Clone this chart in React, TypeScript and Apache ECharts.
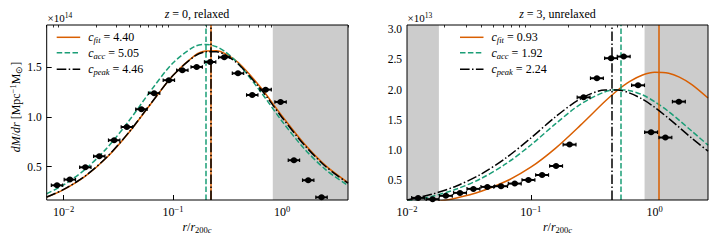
import React, { useEffect, useRef } from 'react';
import * as echarts from 'echarts';

// ---------- data ----------
// Left panel: z = 0, relaxed (values in units of 1e14)
const leftCurveR = [0.007, 0.01, 0.0158, 0.0251, 0.0398, 0.0631, 0.1, 0.158, 0.2, 0.251, 0.3, 0.398, 0.631, 1.0, 1.585, 2.512, 4.0];
const leftFitY = [0.194, 0.27, 0.406, 0.598, 0.847, 1.136, 1.417, 1.617, 1.663, 1.666, 1.638, 1.545, 1.301, 1.008, 0.733, 0.508, 0.34];
const leftAccY = [0.228, 0.317, 0.475, 0.692, 0.964, 1.268, 1.543, 1.709, 1.73, 1.706, 1.657, 1.535, 1.258, 0.955, 0.683, 0.468, 0.311];
const leftPeakY = [0.195, 0.271, 0.408, 0.601, 0.85, 1.138, 1.416, 1.611, 1.655, 1.655, 1.625, 1.53, 1.285, 0.993, 0.721, 0.5, 0.334];
const leftDataR = [0.0087, 0.0114, 0.0158, 0.0212, 0.029, 0.0379, 0.0515, 0.0673, 0.0918, 0.122, 0.165, 0.219, 0.295, 0.394, 0.532, 0.705, 0.966, 1.28, 1.73, 2.29];
const leftDataY = [0.313, 0.37, 0.494, 0.605, 0.766, 0.899, 1.078, 1.239, 1.37, 1.47, 1.503, 1.553, 1.6, 1.439, 1.221, 1.275, 1.151, 0.565, 0.364, 0.192];
const leftLegendValues = ['4.40', '5.05', '4.46'];
const leftVLines = [0.222, 0.197, 0.222]; // fit, acc, peak
const leftShade = [[0.82, 4.0]];
const leftRange = { xMin: 0.007, xMax: 4.0, yMin: 0.165, yMax: 1.925 };
const leftYTicks = [0.5, 1.0, 1.5];

// Right panel: z = 3, unrelaxed (values in units of 1e13)
const rightCurveR = [0.01, 0.0158, 0.0251, 0.0398, 0.0631, 0.1, 0.158, 0.251, 0.398, 0.5, 0.631, 0.8, 1.0, 1.3, 1.585, 2.0, 2.7];
const rightFitY = [0.084, 0.131, 0.204, 0.315, 0.48, 0.713, 1.026, 1.406, 1.806, 1.985, 2.135, 2.241, 2.287, 2.27, 2.206, 2.083, 1.86];
const rightAccY = [0.148, 0.229, 0.351, 0.528, 0.771, 1.081, 1.431, 1.756, 1.964, 1.999, 1.982, 1.911, 1.801, 1.634, 1.489, 1.311, 1.08];
const rightPeakY = [0.171, 0.264, 0.403, 0.601, 0.868, 1.196, 1.547, 1.844, 1.993, 1.994, 1.941, 1.839, 1.707, 1.522, 1.372, 1.193, 0.98];
const rightDataR = [0.0123, 0.0161, 0.0206, 0.0268, 0.0344, 0.0446, 0.0575, 0.0742, 0.0957, 0.1234, 0.16, 0.2056, 0.267, 0.342, 0.445, 0.563, 0.735, 0.937, 1.222, 1.57];
const rightDataY = [0.205, 0.184, 0.239, 0.288, 0.354, 0.387, 0.399, 0.442, 0.502, 0.584, 0.733, 1.088, 1.871, 2.188, 2.52, 2.547, 2.071, 1.293, 1.205, 1.8];
const rightLegendValues = ['0.93', '1.92', '2.24'];
const rightVLines = [1.085, 0.526, 0.45];
const rightShade = [[0.01, 0.0181], [0.83, 2.7]];
const rightRange = { xMin: 0.01, xMax: 2.7, yMin: 0.17, yMax: 3.07 };
const rightYTicks = [0.5, 1.0, 1.5, 2.0, 2.5, 3.0];

const xMajorTicks = [0.01, 0.1, 1];
const ERR_HALF_DEX = 0.052; // half-width of the horizontal error bars (dex)

// ---------- styles ----------
const FONT = 'Liberation Serif';
const ORANGE = '#d95f02';
const GREEN = '#1b9e77';
const BLACK = '#000000';
const DASH = [5.5, 2.4];
const DASHDOT = [9.6, 2.4, 1.5, 2.4];

const minorTicks: number[] = [];
for (let d = -3; d <= 0; d++) {
  for (let k = 2; k <= 9; k++) minorTicks.push(+(k * Math.pow(10, d)).toPrecision(3));
}

const rich = {
  n: { fontSize: 11, fontFamily: FONT, lineHeight: 14, color: '#000' },
  i: { fontSize: 11, fontFamily: FONT, fontStyle: 'italic', lineHeight: 14, color: '#000' },
  sub: { fontSize: 8, fontFamily: FONT, fontStyle: 'italic', lineHeight: 8, verticalAlign: 'bottom', color: '#000' },
  subn: { fontSize: 8, fontFamily: FONT, lineHeight: 8, verticalAlign: 'bottom', color: '#000' },
  sup: { fontSize: 7.5, fontFamily: FONT, lineHeight: 7, verticalAlign: 'top', color: '#000' },
  tn: { fontSize: 12, fontFamily: FONT, lineHeight: 15, color: '#000' },
  tsup: { fontSize: 8.5, fontFamily: FONT, lineHeight: 7, verticalAlign: 'top', color: '#000' },
  li: { fontSize: 12, fontFamily: FONT, fontStyle: 'italic', lineHeight: 15, color: '#000' },
  ln: { fontSize: 12, fontFamily: FONT, lineHeight: 15, color: '#000' },
  lsub: { fontSize: 8.5, fontFamily: FONT, fontStyle: 'italic', lineHeight: 8, verticalAlign: 'bottom', color: '#000' },
  lsubn: { fontSize: 8.5, fontFamily: FONT, lineHeight: 8, verticalAlign: 'bottom', color: '#000' },
  lsup: { fontSize: 8.5, fontFamily: FONT, lineHeight: 7, verticalAlign: 'top', color: '#000' },
};

const pairs = (xs: number[], ys: number[]) => xs.map((x, k) => [x, ys[k]]);

function xAxes(gi: number, rng: any) {
  return [
    {
      type: 'log', logBase: 10, gridIndex: gi, min: rng.xMin, max: rng.xMax,
      axisLine: { show: false }, splitLine: { show: false },
      axisTick: { show: true, inside: true, length: 5, customValues: xMajorTicks, lineStyle: { color: '#000', width: 1 } },
      axisLabel: {
        customValues: xMajorTicks, margin: 4, color: '#000',
        formatter: (v: number) => {
          const e = Math.round(Math.log10(v));
          return `{tn|10}{tsup|${e < 0 ? '\u2212' + -e : e}}`;
        },
        rich,
      },
    },
    {
      type: 'log', logBase: 10, gridIndex: gi, min: rng.xMin, max: rng.xMax,
      axisLine: { show: false }, splitLine: { show: false },
      axisTick: { show: true, inside: true, length: 2.5, customValues: minorTicks, lineStyle: { color: '#000', width: 0.8 } },
      axisLabel: { show: false },
    },
  ];
}

function yAxis(gi: number, rng: any, ticks: number[]) {
  return {
    type: 'value', gridIndex: gi, min: rng.yMin, max: rng.yMax,
    axisLine: { show: false }, splitLine: { show: false },
    axisTick: { show: true, inside: true, length: 5, customValues: ticks, lineStyle: { color: '#000', width: 1 } },
    axisLabel: {
      customValues: ticks, margin: 5, color: '#000', fontFamily: FONT, fontSize: 11.5,
      formatter: (v: number) => v.toFixed(1),
    },
  };
}

function panelSeries(gi: number, r: number[], fit: number[], acc: number[], peak: number[],
  dr: number[], dy: number[], vl: number[], shade: number[][]) {
  const xi = gi * 2;
  const common = { xAxisIndex: xi, yAxisIndex: gi, showSymbol: false, symbol: 'none', smooth: 0.3, clip: true, silent: true };
  const vline = (x: number, color: string, type: any) => ({
    symbol: ['none', 'none'], silent: true, label: { show: false },
    lineStyle: { color, width: 1.5, type }, data: [{ xAxis: x }],
  });
  const F = Math.pow(10, ERR_HALF_DEX);
  return [
    {
      type: 'line', xAxisIndex: xi, yAxisIndex: gi, data: [], z: 1, silent: true,
      markArea: {
        silent: true, itemStyle: { color: '#cccccc', opacity: 1 },
        data: shade.map(([a, b]) => [{ xAxis: a }, { xAxis: b }]),
      },
    },
    { ...common, type: 'line', z: 3, data: pairs(r, fit), lineStyle: { color: ORANGE, width: 1.5 }, markLine: vline(vl[0], ORANGE, 'solid') },
    { ...common, type: 'line', z: 4, data: pairs(r, acc), lineStyle: { color: GREEN, width: 1.5, type: DASH }, markLine: vline(vl[1], GREEN, DASH) },
    { ...common, type: 'line', z: 5, data: pairs(r, peak), lineStyle: { color: BLACK, width: 1.5, type: DASHDOT }, markLine: vline(vl[2], BLACK, DASHDOT) },
    {
      type: 'custom', xAxisIndex: xi, yAxisIndex: gi, z: 6, silent: true,
      data: pairs(dr, dy),
      encode: { x: 0, y: 1 },
      renderItem: (_p: any, api: any) => {
        const x = api.value(0), y = api.value(1);
        const c = api.coord([x, y]);
        const l = api.coord([x / F, y]);
        const rr = api.coord([x * F, y]);
        return {
          type: 'group',
          children: [
            { type: 'line', shape: { x1: l[0], y1: c[1], x2: rr[0], y2: c[1] }, style: { stroke: '#000', lineWidth: 2 } },
            { type: 'line', shape: { x1: l[0], y1: c[1] - 1.8, x2: l[0], y2: c[1] + 1.8 }, style: { stroke: '#000', lineWidth: 1.2 } },
            { type: 'line', shape: { x1: rr[0], y1: c[1] - 1.8, x2: rr[0], y2: c[1] + 1.8 }, style: { stroke: '#000', lineWidth: 1.2 } },
            { type: 'ellipse', shape: { cx: c[0], cy: c[1], rx: 3.3, ry: 3 }, style: { fill: '#000' } },
          ],
        };
      },
    },
  ];
}

function txt(x: number, y: number, text: string, align = 'center', extra: any = {}, size = 11) {
  return {
    type: 'text', x, y, silent: true, ...extra,
    style: {
      text, rich, fontFamily: FONT, fontSize: size, lineHeight: size + 3, fill: '#000',
      align, textAlign: align, verticalAlign: 'middle', textVerticalAlign: 'middle',
    },
  };
}

function legend(x0: number, values: string[]) {
  const rows = [37.3, 52.7, 69.3];
  const defs = [
    { color: ORANGE, dash: null, name: 'fit' },
    { color: GREEN, dash: DASH, name: 'acc' },
    { color: BLACK, dash: DASHDOT, name: 'peak' },
  ];
  const els: any[] = [];
  defs.forEach((d, k) => {
    els.push({
      type: 'line', silent: true,
      shape: { x1: x0, y1: rows[k], x2: x0 + 23.5, y2: rows[k] },
      style: { stroke: d.color, lineWidth: 1.5, lineDash: d.dash || undefined },
    });
    els.push(txt(x0 + 31.5, rows[k], `{li|c}{lsub|${d.name}}{ln| = ${values[k]}}`, 'left', {}, 12));
  });
  return els;
}

export default function App() {
  const ref = useRef<HTMLDivElement>(null);
  useEffect(() => {
    if (!ref.current) return;
    const chart = echarts.init(ref.current, null, { renderer: 'svg' });
    const grids = [
      { left: 46.7, top: 25, width: 301.3, height: 175 },
      { left: 407, top: 25, width: 301, height: 175 },
    ].map((g) => ({ ...g, show: true, borderColor: '#000', borderWidth: 1, backgroundColor: 'transparent', z: 10 }));

    const xLabel = '{li|r}{ln|/}{li|r}{lsubn|200}{lsub|c}';
    chart.setOption({
      animation: false,
      grid: grids,
      xAxis: [...xAxes(0, leftRange), ...xAxes(1, rightRange)],
      yAxis: [yAxis(0, leftRange, leftYTicks), yAxis(1, rightRange, rightYTicks)],
      series: [
        ...panelSeries(0, leftCurveR, leftFitY, leftAccY, leftPeakY, leftDataR, leftDataY, leftVLines, leftShade),
        ...panelSeries(1, rightCurveR, rightFitY, rightAccY, rightPeakY, rightDataR, rightDataY, rightVLines, rightShade),
      ],
      graphic: [
        txt(197, 14, '{li|z}{ln| = 0, relaxed}', 'center', {}, 12),
        txt(557.5, 14, '{li|z}{ln| = 3, unrelaxed}', 'center', {}, 12),
        txt(47.5, 18, '\u00d710{sup|14}', 'left'),
        txt(407.5, 18, '\u00d710{sup|13}', 'left'),
        txt(197, 227, xLabel, 'center', {}, 12),
        txt(557.5, 227, xLabel, 'center', {}, 12),
        txt(16, 107, '{li|dM}{ln|/}{li|dr}{ln| [Mpc}{lsup|\u22121}{ln|M}{lsubn|\u2299}{ln|]}', 'center', { rotation: Math.PI / 2 }, 12),
        ...legend(56.7, leftLegendValues),
        ...legend(460, rightLegendValues),
      ],
    });
    return () => chart.dispose();
  }, []);
  return <div ref={ref} style={{ position: 'fixed', left: 0, top: 0, width: 718, height: 242, background: '#fff' }} />;
}
